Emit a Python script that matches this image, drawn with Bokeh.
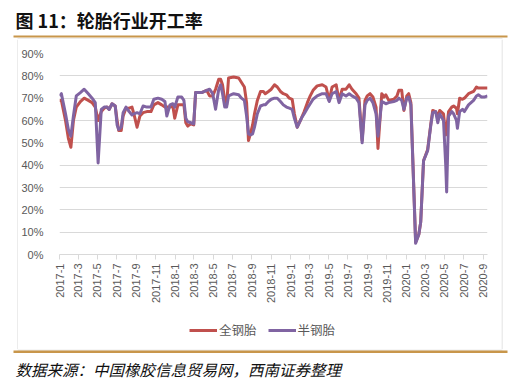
import pandas as pd
from bokeh.plotting import figure
from bokeh.layouts import column, row
from bokeh.models import (Range1d, FixedTicker, PrintfTickFormatter, Legend, LegendItem,
                          Label, BoxAnnotation)
from bokeh.embed import file_html
from bokeh.resources import INLINE

# ---------------- data ----------------
dates = [
    "2017-01-01", "2017-01-07", "2017-01-20", "2017-01-29", "2017-02-06", "2017-02-14",
    "2017-02-23", "2017-03-08", "2017-03-20", "2017-04-02", "2017-04-14", "2017-04-24",
    "2017-05-03", "2017-05-13", "2017-05-22", "2017-05-31", "2017-06-07", "2017-06-16",
    "2017-06-26", "2017-07-02", "2017-07-07", "2017-07-15", "2017-07-21", "2017-07-30",
    "2017-08-09", "2017-08-18", "2017-08-24", "2017-09-03", "2017-09-12", "2017-09-22",
    "2017-10-04", "2017-10-17", "2017-10-26", "2017-11-08", "2017-11-20", "2017-11-30",
    "2017-12-06", "2017-12-16", "2017-12-25", "2017-12-31", "2018-01-10", "2018-01-22",
    "2018-01-29", "2018-02-04", "2018-02-10", "2018-02-20", "2018-03-01", "2018-03-07",
    "2018-03-26", "2018-04-11", "2018-04-20", "2018-04-30", "2018-05-09", "2018-05-19",
    "2018-05-25", "2018-05-31", "2018-06-07", "2018-06-13", "2018-06-19", "2018-07-05",
    "2018-07-21", "2018-07-30", "2018-08-08", "2018-08-15", "2018-08-21", "2018-08-27",
    "2018-09-03", "2018-09-09", "2018-09-18", "2018-09-28", "2018-10-07", "2018-10-13",
    "2018-10-23", "2018-11-01", "2018-11-11", "2018-11-20", "2018-11-30", "2018-12-09",
    "2018-12-19", "2018-12-28", "2019-01-06", "2019-01-13", "2019-01-22", "2019-02-04",
    "2019-02-13", "2019-02-23", "2019-03-04", "2019-03-13", "2019-03-26", "2019-04-11",
    "2019-04-23", "2019-05-03", "2019-05-12", "2019-05-25", "2019-06-03", "2019-06-13",
    "2019-06-25", "2019-07-05", "2019-07-14", "2019-07-27", "2019-08-05", "2019-08-15",
    "2019-08-24", "2019-08-31", "2019-09-09", "2019-09-18", "2019-09-28", "2019-10-04",
    "2019-10-16", "2019-10-23", "2019-10-29", "2019-11-07", "2019-11-23", "2019-12-03",
    "2019-12-09", "2019-12-18", "2019-12-25", "2020-01-03", "2020-01-09", "2020-01-16",
    "2020-01-31", "2020-02-10", "2020-02-16", "2020-02-25", "2020-03-09", "2020-03-19",
    "2020-03-25", "2020-04-03", "2020-04-10", "2020-04-16", "2020-04-28", "2020-05-05",
    "2020-05-08", "2020-05-14", "2020-05-24", "2020-05-30", "2020-06-08", "2020-06-11",
    "2020-06-18", "2020-06-27", "2020-07-03", "2020-07-16", "2020-08-01", "2020-08-10",
    "2020-08-16", "2020-08-26", "2020-09-04", "2020-09-14",
]

# 全钢胎 (all-steel tyre) operating rate, %
all_steel = [
    69, 69, 60, 52, 48, 60,
    66, 68.5, 70, 69, 68, 66,
    60, 64, 65.5, 66, 65, 67.5,
    66.5, 60, 55.5, 55.5, 62, 65.5,
    65.5, 66, 63, 57, 62, 63.5,
    64, 64, 67, 68, 67, 66,
    66, 66, 66.5, 61, 67, 67,
    67, 59, 57.5, 58.5, 58, 72.5,
    72.5, 73.5, 71, 71, 74, 78.5,
    78.5, 76, 69, 67, 79, 79.5,
    79, 77, 75, 68, 51, 54,
    58, 63, 69, 73, 73, 72,
    73, 74, 76, 75, 73, 72,
    71.5, 70, 69.5, 63, 57, 61,
    64, 68, 71, 73.5, 75.5, 76,
    75, 69, 75, 76, 69, 74,
    74, 76, 74, 72, 70, 51,
    69, 71, 72, 70.5, 66, 47.5,
    72, 70.5, 71.5, 69, 69.5, 71,
    73.5, 73.5, 64.5, 71, 72, 68,
    5.5, 9, 14.5, 42, 47, 58.5,
    64.5, 64, 62, 64.5, 63, 53.5,
    56, 64, 66, 66.5, 65.5, 63,
    70, 69.5, 70, 72, 73, 75,
    74.5, 74.5, 74.5, 74.5,
]

# 半钢胎 (semi-steel tyre) operating rate, %
semi_steel = [
    71, 72, 63, 56, 53, 62,
    71, 72.5, 74, 72, 70, 68,
    41, 65, 66, 66, 65, 67.5,
    66.5, 58, 56, 57, 63.5, 66,
    64, 62.5, 63, 63.5, 63, 66.5,
    66, 66, 69.5, 70, 69.5, 68.5,
    62, 67, 67.5, 66, 70.5, 70.5,
    69, 61, 59.5, 59, 58.5, 72.5,
    72.5, 73.5, 74, 72, 65, 74,
    76, 72, 66, 66, 71, 72,
    71.5, 70, 69, 62, 54, 53.5,
    54, 57, 63, 66.5, 67, 67,
    68.5, 69.5, 70, 70, 68.5, 67,
    66, 65.5, 65, 61, 57, 61,
    63, 65.5, 67.5, 69.5, 71, 72,
    72, 68.5, 72, 73, 68, 72,
    71, 72, 71, 70, 68, 50,
    67, 69, 70, 68, 63, 53,
    68.5, 68, 67.5, 68, 68.5, 69,
    70, 69, 65, 70, 70.5, 67,
    5, 9, 14.5, 42, 46.5, 58,
    63.5, 64, 59, 63, 60, 40,
    28, 62, 64, 63, 60, 56.5,
    64, 65, 64, 67, 69, 71,
    71.5, 70.5, 70.5, 71,
]

tick_labels = ["2017-1", "2017-3", "2017-5", "2017-7", "2017-9", "2017-11",
               "2018-1", "2018-3", "2018-5", "2018-7", "2018-9", "2018-11",
               "2019-1", "2019-3", "2019-5", "2019-7", "2019-9", "2019-11",
               "2020-1", "2020-3", "2020-5", "2020-7", "2020-9"]
y_ticks = [0, 10, 20, 30, 40, 50, 60, 70, 80, 90]

series_names = ["全钢胎", "半钢胎"]
title_text = "图 11：轮胎行业开工率"
source_text = "数据来源：中国橡胶信息贸易网，西南证券整理"

# ---------------- styles ----------------
RED = "#C0504D"
PURPLE = "#8064A2"
GRID = "#D9D9D9"
BOX = "#D9D9D9"
TXT = "#595959"
GOLD = "#C8964B"
CJK = "Noto Sans CJK SC"


def deco_fig(w, h):
    """A blank strip whose frame is its canvas (coordinates = pixels)."""
    f = figure(width=w, height=h, x_range=Range1d(0, w), y_range=Range1d(0, h),
               output_backend="svg", toolbar_location=None, min_border=0,
               x_axis_location=None, y_axis_location=None)
    f.grid.visible = False
    f.outline_line_color = None
    f.background_fill_color = "white"
    f.border_fill_color = "white"
    return f


def bar(f, x0, x1, y0, y1, color):
    f.add_layout(BoxAnnotation(left=x0, right=x1, bottom=y0, top=y1,
                               fill_color=color, fill_alpha=1, line_color=None))


# ---------------- main chart ----------------
x = pd.to_datetime(dates)
tick_dt = pd.to_datetime(tick_labels, format="%Y-%m")
tick_ms = [float(t.value // 10**6) for t in tick_dt]
x_start = float(x[0].value // 10**6)
x_end = float(x[-1].value // 10**6)

p = figure(width=483, height=268, output_backend="svg", toolbar_location=None,
           x_axis_type="datetime",
           x_range=Range1d(x_start, x_end), y_range=Range1d(0, 90),
           min_border_left=39, min_border_right=14, min_border_top=14, min_border_bottom=53)
p.outline_line_color = None
p.background_fill_color = "white"
p.border_fill_color = "white"

r1 = p.line(x, all_steel, line_color=RED, line_width=3, line_join="round")
r2 = p.line(x, semi_steel, line_color=PURPLE, line_width=3, line_join="round")

p.xaxis.ticker = FixedTicker(ticks=tick_ms)
p.xaxis.major_label_overrides = {t: lab for t, lab in zip(tick_ms, tick_labels)}
p.xaxis.major_label_orientation = 1.5707963
p.xaxis.axis_line_color = GRID
p.xaxis.major_tick_line_color = GRID
p.xaxis.major_tick_out = 5
p.xaxis.major_tick_in = 0
p.xaxis.minor_tick_line_color = None
p.xaxis.major_label_standoff = 4
p.xaxis.major_label_text_font = "Liberation Sans"
p.xaxis.major_label_text_font_size = "11px"
p.xaxis.major_label_text_color = TXT

p.yaxis.ticker = FixedTicker(ticks=y_ticks)
p.yaxis.formatter = PrintfTickFormatter(format="%d%%")
p.yaxis.axis_line_color = None
p.yaxis.major_tick_line_color = None
p.yaxis.minor_tick_line_color = None
p.yaxis.major_label_standoff = 10
p.yaxis.major_label_text_font = "Liberation Sans"
p.yaxis.major_label_text_font_size = "11px"
p.yaxis.major_label_text_color = TXT

p.xgrid.grid_line_color = None
p.ygrid.grid_line_color = GRID
p.ygrid.grid_line_width = 1

# ---------------- legend strip (its frame is aligned with the chart frame) ----------------
lg = deco_fig(483, 42)
d1 = lg.line(x, all_steel, line_color=RED, line_width=3)
d2 = lg.line(x, semi_steel, line_color=PURPLE, line_width=3)
legend = Legend(items=[LegendItem(label=series_names[0], renderers=[d1]),
                       LegendItem(label=series_names[1], renderers=[d2])],
                orientation="horizontal", location=(130, 10),
                border_line_color=None, background_fill_alpha=0,
                label_text_font=CJK, label_text_font_size="12.5px",
                label_text_color=TXT, glyph_width=28, glyph_height=14,
                label_standoff=2, spacing=11, padding=2, margin=0)
lg.add_layout(legend, "center")

# ---------------- side strips (chart box edges) ----------------
left = deco_fig(18, 310)
bar(left, 17, 18, 0, 310, BOX)
right = deco_fig(23, 310)
bar(right, 0, 1, 0, 310, BOX)

# ---------------- top strip: title ----------------
top = deco_fig(524, 39)
top.add_layout(Label(x=15, y=19.5, text=title_text, text_font=CJK, text_font_style="bold",
                     text_font_size="18px", text_color="#111111", text_baseline="middle"))
bar(top, 13, 507, 2, 4, GOLD)
bar(top, 17, 502, 0, 1, BOX)

# ---------------- bottom strip: box edge + source ----------------
bottom = deco_fig(524, 32)
bar(bottom, 17, 502, 31, 32, BOX)
bar(bottom, 13, 507, 28.5, 31, GOLD)
bottom.add_layout(Label(x=15, y=13, text=source_text, text_font=CJK, text_font_style="italic",
                        text_font_size="15.5px", text_color="#111111", text_baseline="middle"))

layout = column(top,
                row(left, column(p, lg, spacing=0), right, spacing=0),
                bottom, spacing=0)

open("out.html", "w").write(file_html(layout, INLINE))
